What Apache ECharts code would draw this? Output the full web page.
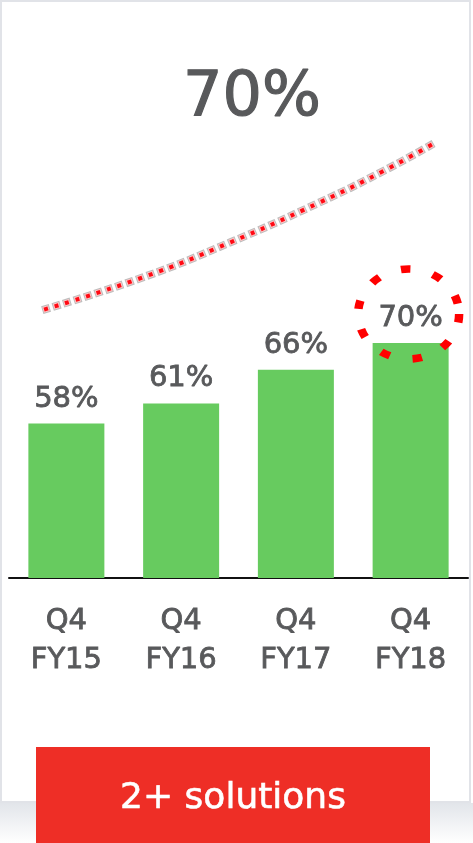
<!DOCTYPE html>
<html>
<head>
<meta charset="utf-8">
<script src="https://cdn.jsdelivr.net/npm/echarts@6/dist/echarts.min.js"></script>
<style>
  html, body { margin: 0; padding: 0; background: #ffffff; }
  #chart { width: 473px; height: 843px; }
</style>
</head>
<body>
<div id="chart"></div>
<script>
// Share of customers by quarter
const categories = ['Q4\nFY15', 'Q4\nFY16', 'Q4\nFY17', 'Q4\nFY18'];
const shares = [58, 61, 66, 70];
const headline = '70%';
const buttonText = '2+ solutions';

// Decorative rising trend curve, in category units (x) and percent units (y)
const trendX = [0.29, 1.17, 1.93, 2.69, 3.25, 3.70];
const trendY = [74.9, 79.8, 85.0, 90.8, 95.5, 99.7];

const TEXT = '#58595b';
const GREEN = '#67cb5f';
const RED = '#ee2e26';
const FONT = 'DejaVu Sans';

const trendData = trendX.map((x, i) => [x, trendY[i]]);

// One stroke of the beaded trend line; layers are stacked to form outlined dots
function trendLayer(color, width, dash, offset) {
  return {
    type: 'line',
    xAxisIndex: 1,
    yAxisIndex: 0,
    data: trendData,
    smooth: true,
    showSymbol: false,
    clip: false,
    silent: true,
    lineStyle: { color: color, width: width, type: dash, dashOffset: offset, cap: 'butt' },
    z: 3
  };
}

const chart = echarts.init(document.getElementById('chart'), null, { renderer: 'canvas' });

chart.setOption({
  animation: false,
  backgroundColor: '#ffffff',
  textStyle: { fontFamily: FONT },
  title: {
    text: headline,
    left: 247,
    top: 63,
    textAlign: 'center',
    textStyle: {
      fontFamily: FONT, fontSize: 62, fontWeight: 'normal', color: TEXT,
      textBorderColor: TEXT, textBorderWidth: 1.2
    }
  },
  graphic: [
    // soft shadow under the card
    {
      type: 'rect', z: -10, silent: true,
      shape: { x: 0, y: 803, width: 473, height: 40 },
      style: {
        fill: new echarts.graphic.LinearGradient(0, 0, 0, 1, [
          { offset: 0, color: '#e2e5ea' },
          { offset: 1, color: '#ffffff' }
        ])
      }
    },
    // card
    {
      type: 'rect', z: -9, silent: true,
      shape: { x: 1, y: 1, width: 469, height: 801 },
      style: { fill: '#ffffff', stroke: '#e1e3e8', lineWidth: 2 }
    },
    // call-to-action button
    {
      type: 'group', z: 10,
      children: [
        {
          type: 'rect',
          shape: { x: 36, y: 747, width: 394, height: 96 },
          style: { fill: RED }
        },
        {
          type: 'text',
          x: 233, y: 799,
          style: {
            text: buttonText,
            fill: '#ffffff',
            font: 'normal 36px "' + FONT + '"',
            textAlign: 'center',
            textVerticalAlign: 'middle',
            stroke: '#ffffff',
            lineWidth: 0.6
          }
        }
      ]
    }
  ],
  grid: { left: 9, right: 5, top: 108, bottom: 265, containLabel: false },
  xAxis: [
    {
      type: 'category',
      data: categories,
      axisTick: { show: false },
      axisLine: { show: true, lineStyle: { color: '#111111', width: 2 } },
      axisLabel: {
        interval: 0,
        margin: 24,
        color: TEXT,
        fontFamily: FONT,
        fontSize: 29,
        lineHeight: 39,
        textBorderColor: TEXT,
        textBorderWidth: 0.8
      }
    },
    {
      type: 'value',
      min: 0,
      max: 4,
      show: false
    }
  ],
  yAxis: [
    {
      type: 'value',
      min: 35,
      max: 105,
      show: false,
      splitLine: { show: false }
    }
  ],
  series: [
    {
      type: 'bar',
      data: shares,
      barWidth: 76,
      itemStyle: { color: GREEN },
      label: {
        show: true,
        position: 'top',
        distance: 10,
        formatter: '{c}%',
        color: TEXT,
        fontFamily: FONT,
        fontSize: 29,
        textBorderColor: TEXT,
        textBorderWidth: 0.8
      },
      markPoint: {
        symbol: 'circle',
        symbolSize: [101, 90],
        symbolOffset: [-2, -29],
        silent: true,
        label: { show: false },
        itemStyle: {
          color: 'rgba(0,0,0,0)',
          borderColor: '#ff0000',
          borderWidth: 8,
          borderType: [9, 22],
          borderDashOffset: 0
        },
        data: [{ coord: [categories[3], shares[3]] }]
      },
      z: 2
    },
    trendLayer('#bdbdbd', 8, [8, 3], 0),
    trendLayer('#ffc4c4', 6, [6, 5], -1),
    trendLayer('#ff0a14', 4, [4, 7], -2)
  ]
});
</script>
</body>
</html>
